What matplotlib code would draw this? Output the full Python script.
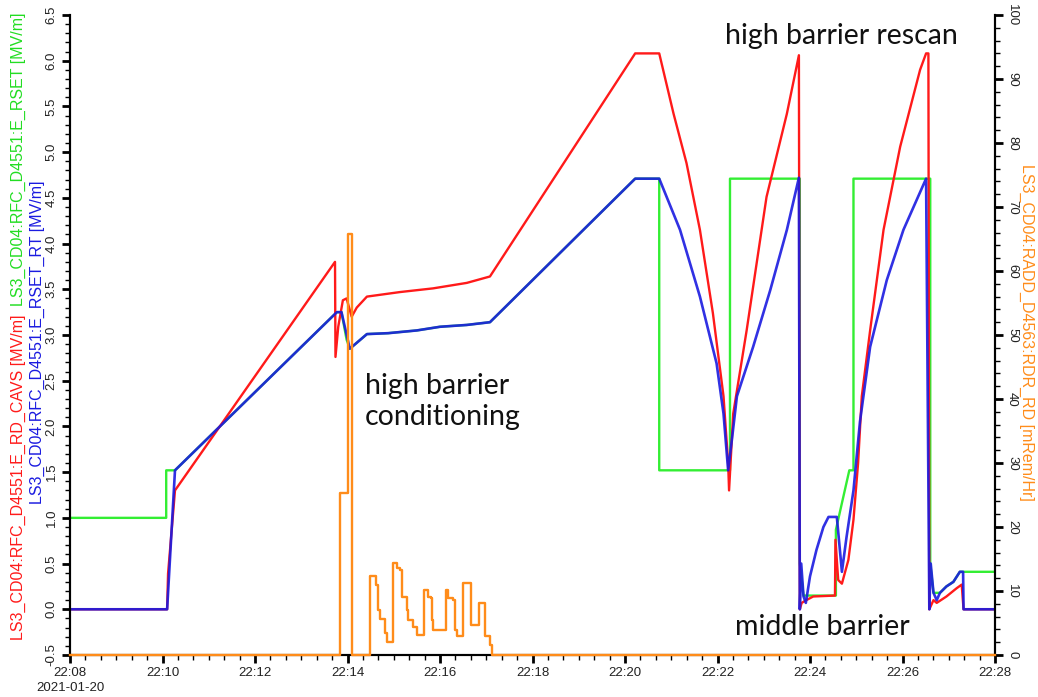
import matplotlib
matplotlib.use('Agg')
import matplotlib.pyplot as plt
from matplotlib.ticker import MultipleLocator, FixedLocator, FixedFormatter

# time axis: minutes after 22:08 (2021-01-20)
tick_minutes = list(range(0, 21, 2))
tick_labels = ["22:%02d" % (8 + m) for m in tick_minutes]

# LS3_CD04:RFC_D4551:E_RSET_RT [MV/m]
t_blue = [0.00, 2.10, 2.27, 5.77, 5.87, 6.05, 6.42, 6.88, 7.50, 8.00, 8.58, 9.08,
          12.22, 12.74, 13.19, 13.62, 13.98, 14.13, 14.23, 14.31, 14.42, 14.77, 15.14,
          15.50, 15.76, 15.78, 15.81, 15.86, 15.91, 16.00, 16.14, 16.29, 16.40, 16.58,
          16.69, 16.79, 16.94, 17.08, 17.30, 17.66, 18.02, 18.51, 18.58, 18.61, 18.67,
          18.74, 18.81, 18.95, 19.10, 19.24, 19.31, 19.32, 20.00]
v_blue = [0.00, 0.00, 1.52, 3.25, 3.25, 2.85, 3.01, 3.02, 3.05, 3.09, 3.11, 3.14,
          4.71, 4.71, 4.15, 3.42, 2.69, 2.14, 1.52, 1.85, 2.33, 2.87, 3.49,
          4.15, 4.72, 0.00, 0.50, 0.14, 0.07, 0.36, 0.65, 0.90, 1.01, 1.01,
          0.41, 0.79, 1.30, 2.05, 2.87, 3.60, 4.15, 4.71, 0.00, 0.50, 0.18,
          0.10, 0.18, 0.25, 0.30, 0.41, 0.41, 0.00, 0.00]

# LS3_CD04:RFC_D4551:E_RD_CAVS [MV/m]
t_red = [0.00, 2.10, 2.12, 2.27, 5.73, 5.74, 5.80, 5.90, 5.98, 6.09, 6.20, 6.42,
         7.14, 7.85, 8.58, 9.08, 12.22, 12.74, 13.05, 13.33, 13.62, 13.90, 14.13,
         14.23, 14.25, 14.34, 14.63, 15.06, 15.50, 15.76, 15.78, 15.82, 15.92, 16.07,
         16.54, 16.55, 16.61, 16.69, 16.83, 16.94, 17.04, 17.12, 17.30, 17.59, 17.95,
         18.38, 18.51, 18.56, 18.58, 18.67, 18.74, 18.95, 19.17, 19.28, 19.32, 20.00]
v_red = [0.00, 0.00, 0.39, 1.30, 3.80, 2.76, 3.09, 3.38, 3.40, 3.20, 3.30, 3.42,
         3.47, 3.51, 3.57, 3.64, 6.08, 6.08, 5.42, 4.88, 4.15, 3.24, 2.33,
         1.60, 1.30, 2.14, 3.05, 4.51, 5.42, 6.06, 0.00, 0.07, 0.10, 0.14,
         0.15, 0.76, 0.32, 0.28, 0.54, 0.98, 1.60, 2.33, 3.05, 4.15, 5.06,
         5.90, 6.08, 6.08, 0.00, 0.10, 0.07, 0.14, 0.23, 0.27, 0.00, 0.00]

# LS3_CD04:RFC_D4551:E_RSET [MV/m]
t_green = [0.00, 2.08, 2.08, 2.27, 5.77, 5.87, 5.98, 6.05, 6.42, 6.88, 7.50, 8.00,
           8.58, 9.08, 12.22, 12.74, 12.74, 14.27, 14.27, 15.78, 15.78, 15.86, 16.56,
           16.56, 16.85, 16.94, 16.94, 18.60, 18.60, 18.67, 18.81, 18.95, 19.10, 19.24,
           20.00]
v_green = [1.00, 1.00, 1.52, 1.52, 3.25, 3.25, 2.95, 2.85, 3.01, 3.02, 3.05, 3.09,
           3.11, 3.14, 4.71, 4.71, 1.52, 1.52, 4.71, 4.71, 0.50, 0.15, 0.15,
           0.87, 1.52, 1.52, 4.71, 4.71, 0.50, 0.18, 0.18, 0.25, 0.30, 0.41,
           0.41]

# LS3_CD04:RADD_D4563:RDR_RD [mRem/Hr]  (step values)
t_orange = [0.00, 5.84, 6.02, 6.09, 6.49, 6.62, 6.67, 6.70, 6.81, 6.85, 6.98, 7.06,
            7.14, 7.17, 7.28, 7.31, 7.42, 7.50, 7.65, 7.75, 7.81, 7.82, 7.85, 8.13,
            8.18, 8.29, 8.32, 8.36, 8.49, 8.66, 8.84, 8.97, 9.08, 9.12, 20.00]
v_orange = [0.0, 25.3, 65.8, 0.0, 12.3, 11.0, 7.1, 5.7, 3.4, 2.1, 14.4, 13.6,
            13.3, 9.1, 7.1, 5.5, 4.4, 3.1, 10.2, 9.1, 8.9, 5.5, 3.9, 10.2,
            8.9, 8.6, 3.9, 2.9, 11.3, 4.7, 8.1, 2.9, 1.6, 0.0, 0.0]

W, H = 1038, 697
fig = plt.figure(figsize=(W / 100, H / 100), dpi=100)
ax = fig.add_axes([70 / W, 42 / H, 925 / W, 640 / H])
ax2 = ax.twinx()

tick_font = 'Liberation Sans'
ax.plot(t_green, v_green, color='#33ee33', lw=1.7, zorder=2)
ax.plot(t_red, v_red, color='#ff1a1a', lw=1.7, zorder=3)
ax.plot(t_blue, v_blue, color='#1a1ae0', lw=1.9, alpha=0.9, zorder=4)
ax2.plot(t_orange, v_orange, color='#ff8c1a', lw=1.7, drawstyle='steps-post',
         clip_on=False, zorder=5)

ax.set_xlim(0, 20)
ax.set_ylim(-0.5, 6.5)
ax2.set_ylim(0, 100)

for a in (ax, ax2):
    a.spines['top'].set_visible(False)
    for s in ('left', 'right', 'bottom'):
        a.spines[s].set_linewidth(1.5)

ax.xaxis.set_major_locator(FixedLocator(tick_minutes))
ax.xaxis.set_major_formatter(FixedFormatter(tick_labels))
ax.xaxis.set_minor_locator(MultipleLocator(1 / 3))
ax.yaxis.set_major_locator(MultipleLocator(0.5))
ax.yaxis.set_minor_locator(MultipleLocator(0.1))
ax.yaxis.set_major_formatter(matplotlib.ticker.FormatStrFormatter('%.1f'))
ax2.yaxis.set_major_locator(MultipleLocator(10))
ax2.yaxis.set_minor_locator(MultipleLocator(2))

for a in (ax, ax2):
    a.tick_params(which='major', length=6, width=2, color='black', labelsize=9.5,
                  labelcolor='#222222', pad=3)
    a.tick_params(which='minor', length=3.5, width=1, color='black')
ax.tick_params(axis='y', labelrotation=90)
ax2.tick_params(axis='y', labelrotation=-90, pad=2)
for lab in ax.get_yticklabels() + ax2.get_yticklabels() + ax.get_xticklabels():
    lab.set_fontfamily(tick_font)
for lab in ax.get_yticklabels() + ax2.get_yticklabels():
    lab.set_va('center')

fig.text(70 / W, 1 - 688 / H, '2021-01-20', ha='center', va='center',
         fontsize=9.5, color='#222222', family=tick_font)

# axis labels
lab_size = 11.5
red_lab = fig.text(18 / W, 1 - 640 / H, 'LS3_CD04:RFC_D4551:E_RD_CAVS [MV/m]',
                   rotation=90, ha='center', va='bottom', color='#ff1a1a',
                   fontsize=lab_size, family=tick_font)
fig.canvas.draw()
bb = red_lab.get_window_extent()
fig.text(18 / W, (bb.y1 + 8) / H, 'LS3_CD04:RFC_D4551:E_RSET [MV/m]',
         rotation=90, ha='center', va='bottom', color='#22dd22',
         fontsize=lab_size, family=tick_font)
fig.text(37 / W, 1 - 342 / H, 'LS3_CD04:RFC_D4551:E_RSET_RT [MV/m]',
         rotation=90, ha='center', va='center', color='#1a1ae0',
         fontsize=lab_size, family=tick_font)
fig.text(1027 / W, 1 - 332 / H, 'LS3_CD04:RADD_D4563:RDR_RD [mRem/Hr]',
         rotation=-90, ha='center', va='center', color='#ff8c1a',
         fontsize=lab_size, family=tick_font)

# annotations
ann_font = 'Lato'
ann_size = 20.5
ax.text(16.69, 6.27, 'high barrier rescan', ha='center', va='center',
        fontsize=ann_size, family=ann_font, color='#111111')
ax.text(6.38, 2.27, 'high barrier\nconditioning', ha='left', va='center',
        fontsize=ann_size, family=ann_font, color='#111111', linespacing=1.25)
ax.text(16.26, -0.19, 'middle barrier', ha='center', va='center',
        fontsize=ann_size, family=ann_font, color='#111111')

fig.savefig('out.png', dpi=100)
